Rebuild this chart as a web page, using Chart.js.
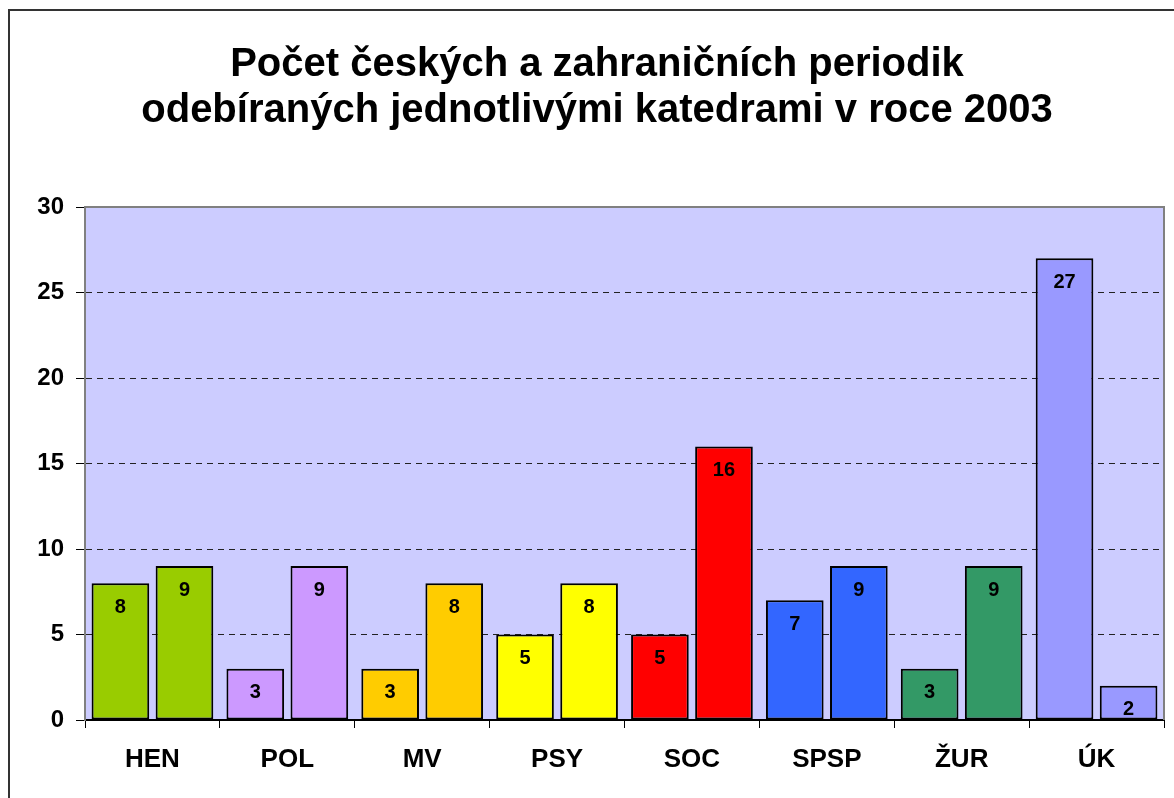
<!DOCTYPE html>
<html>
<head>
<meta charset="utf-8">
<script src="https://cdn.jsdelivr.net/npm/chart.js@4"></script>
<style>
  body { margin: 0; background: #fff; overflow: hidden; }
  #frame { position: absolute; left: 8px; top: 9px; width: 1180px; height: 800px;
           border-left: 2px solid #333; border-top: 2px solid #333; }
  #wrap { position: absolute; left: 0; top: 0; width: 1174px; height: 790px; }
</style>
</head>
<body>
<div id="frame"><div id="wrap"><canvas id="chart"></canvas></div></div>
<script>
// Categories (departments) and the two series per department
const departments = ['HEN', 'POL', 'MV', 'PSY', 'SOC', 'SPSP', 'ŽUR', 'ÚK'];
const firstValues = [8, 3, 3, 5, 5, 7, 3, 27];
const secondValues = [9, 9, 8, 8, 16, 9, 9, 2];
const deptColors = ['#99CC00', '#CC99FF', '#FFCC00', '#FFFF00', '#FF0000', '#3366FF', '#339966', '#9999FF'];
const yTicks = [0, 5, 10, 15, 20, 25, 30];

const fontFamily = '"Liberation Sans", Arial, sans-serif';

// Plot background and grey frame
const plotFrame = {
  id: 'plotFrame',
  beforeDraw(chart) {
    const { ctx, chartArea: a } = chart;
    ctx.save();
    ctx.fillStyle = '#CCCCFF';
    ctx.fillRect(a.left, a.top, a.right - a.left, a.bottom - a.top);
    ctx.restore();
  },
  afterDraw(chart) {
    const { ctx, chartArea: a } = chart;
    ctx.save();
    ctx.strokeStyle = '#808080';
    ctx.lineWidth = 2;
    ctx.beginPath();
    ctx.moveTo(a.left, a.bottom);
    ctx.lineTo(a.left, a.top);
    ctx.lineTo(a.right, a.top);
    ctx.lineTo(a.right, a.bottom);
    ctx.stroke();
    ctx.restore();
  }
};

// Value labels inside the top of each bar
const barLabels = {
  id: 'barLabels',
  afterDatasetsDraw(chart) {
    const { ctx } = chart;
    ctx.save();
    ctx.font = 'bold 20px ' + fontFamily;
    ctx.fillStyle = '#000';
    ctx.textAlign = 'center';
    ctx.textBaseline = 'middle';
    chart.data.datasets.forEach((ds, i) => {
      chart.getDatasetMeta(i).data.forEach((bar, j) => {
        ctx.fillText(ds.data[j], bar.x, bar.y + 24);
      });
    });
    ctx.restore();
  }
};

new Chart(document.getElementById('chart'), {
  type: 'bar',
  data: {
    labels: departments,
    datasets: [
      { label: 'A', data: firstValues, backgroundColor: deptColors, borderColor: '#000', borderWidth: 2,
        borderSkipped: false, categoryPercentage: 0.95, barPercentage: 0.9 },
      { label: 'B', data: secondValues, backgroundColor: deptColors, borderColor: '#000', borderWidth: 2,
        borderSkipped: false, categoryPercentage: 0.95, barPercentage: 0.9 }
    ]
  },
  options: {
    responsive: true,
    maintainAspectRatio: false,
    animation: false,
    layout: { padding: 0 },
    plugins: {
      legend: { display: false },
      tooltip: { enabled: false },
      title: {
        display: true,
        text: ['Počet českých a zahraničních periodik', 'odebíraných jednotlivými katedrami v roce 2003'],
        color: '#000',
        font: { family: fontFamily, size: 40, weight: 'bold', lineHeight: 1.15 },
        padding: { top: 31, bottom: 73 }
      }
    },
    scales: {
      x: {
        grid: { display: true, drawOnChartArea: false, drawTicks: true, tickLength: 8, color: '#000', offset: true },
        border: { color: '#000', width: 2 },
        ticks: { color: '#000', padding: 16, font: { family: fontFamily, size: 26, weight: 'bold' } },
        afterFit(s) { s.height = 81; }
      },
      y: {
        min: 0,
        max: 30,
        afterBuildTicks(s) { s.ticks = yTicks.map(v => ({ value: v })); },
        grid: {
          color: ctx => (ctx.tick && (ctx.tick.value === 0 || ctx.tick.value === 30)) ? 'rgba(0,0,0,0)' : '#222',
          tickColor: '#000',
          tickLength: 9,
          tickBorderDash: [],
          lineWidth: 1
        },
        border: { color: '#808080', width: 2, dash: [6, 5] },
        ticks: { color: '#000', padding: 12, font: { family: fontFamily, size: 24, weight: 'bold' } },
        afterFit(s) { s.width = 75; }
      },
      // empty axis that only reserves the margin right of the plot
      spacer: {
        position: 'right',
        min: 0,
        max: 30,
        grid: { display: false },
        border: { display: false },
        ticks: { display: false },
        afterFit(s) { s.width = 20; }
      }
    }
  },
  plugins: [plotFrame, barLabels]
});
</script>
</body>
</html>
